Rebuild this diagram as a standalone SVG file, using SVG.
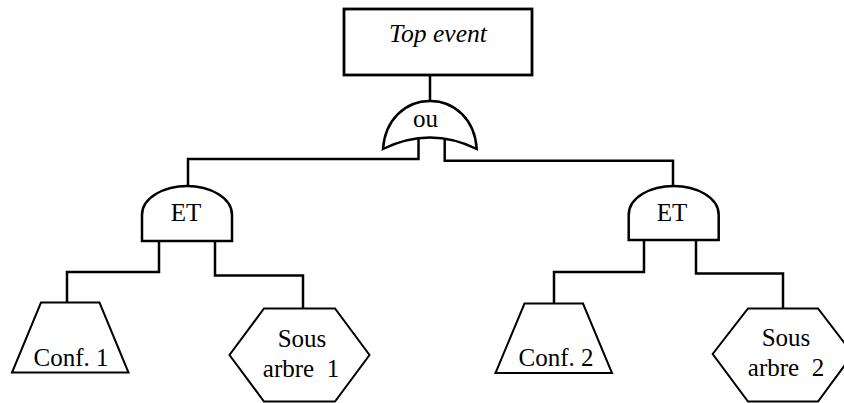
<svg xmlns="http://www.w3.org/2000/svg" width="844" height="403" viewBox="0 0 844 403">
<style>
.s{fill:#fff;stroke:#000;stroke-width:2;stroke-linejoin:miter}
.b{fill:#fff;stroke:#000;stroke-width:2.8;stroke-linejoin:miter}
.g{fill:#fff;stroke:#000;stroke-width:2.5;stroke-linejoin:miter}
.c{fill:none;stroke:#000;stroke-width:2.5}
text{font-family:"Liberation Serif","Times New Roman",serif;font-size:25px;fill:#000;text-anchor:middle;white-space:pre}
</style>
<rect width="844" height="403" fill="#fff"/>
<g id="connectors">
<path class="c" d="M430 75V102"/>
<path class="c" d="M418.5 138V159H188V187"/>
<path class="c" d="M444.7 138V160.7H673V187"/>
<path class="c" d="M159 241V272H67V303"/>
<path class="c" d="M215 241V275.5H303V308"/>
<path class="c" d="M644 240V272H554V304"/>
<path class="c" d="M696 240V273.5H783V308"/>
</g>
<g id="top-event">
<rect class="b" x="344" y="9" width="188" height="66"/>
<text x="438" y="42" font-style="italic" style="font-size:25.6px">Top event</text>
</g>
<g id="gate-ou">
<path class="g" d="M383 149C385 120 405 101 430 101C455 101 475 120 476.7 149Q430 126 383 149Z"/>
<text x="425.5" y="126.5">ou</text>
</g>
<g id="gate-et-1">
<path class="g" d="M142 241V215C142 197 165 186 187 186C209 186 232 197 232 215V241Z"/>
<text x="186" y="220.5">ET</text>
</g>
<g id="gate-et-2">
<path class="g" d="M628.7 240V215C628.7 197 651 186 673.7 186C696 186 718.7 197 718.7 215V240Z"/>
<text x="672" y="220.5">ET</text>
</g>
<g id="conf-1">
<path class="s" d="M41 302.5H99.5L128.5 372.5H12Z"/>
<text x="71" y="366">Conf. 1</text>
</g>
<g id="sous-arbre-1">
<path class="s" d="M264 308.5H335L369.5 355L335 401.5H264L229.5 355Z"/>
<text x="302" y="347">Sous</text>
<text x="301" y="377">arbre  1</text>
</g>
<g id="conf-2">
<path class="s" d="M524.5 303.5H583L612 373H495.5Z"/>
<text x="556" y="366">Conf. 2</text>
</g>
<g id="sous-arbre-2">
<path class="s" d="M748 308.5H818L853 354L818 401.5H748L712.7 354Z"/>
<text x="786" y="346">Sous</text>
<text x="786" y="376">arbre  2</text>
</g>
</svg>
